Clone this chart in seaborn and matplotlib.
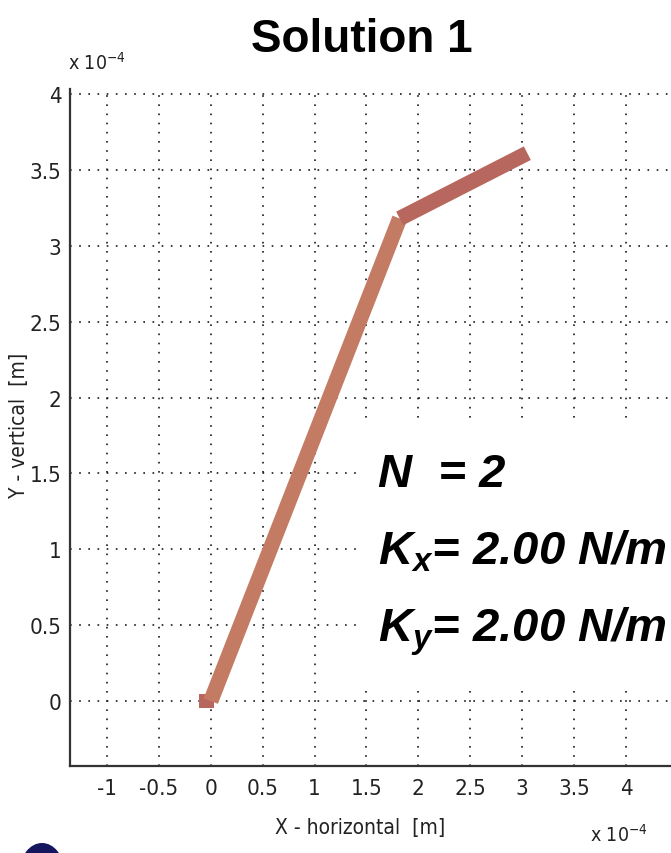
import matplotlib
matplotlib.use("Agg")
import matplotlib.pyplot as plt
import matplotlib.patches as mpatches
from matplotlib import font_manager
from matplotlib.ticker import FixedLocator, FuncFormatter
import pandas as pd
import seaborn as sns

# Node positions of the deformed chain [m]
x_nodes = [0.0, 1.82e-4, 3.05e-4]
y_nodes = [0.0, 3.18e-4, 3.61e-4]
# fixed support marker
support_x = [-0.04e-4]
support_y = [0.0]

scale = 1e-4
x_ticks = [-1, -0.5, 0, 0.5, 1, 1.5, 2, 2.5, 3, 3.5, 4]
y_ticks = [0, 0.5, 1, 1.5, 2, 2.5, 3, 3.5, 4]

title = "Solution 1"
n_label = "N  = 2"
kx_label = r"$K_x$= 2.00 N/m"
ky_label = r"$K_y$= 2.00 N/m"

sns.set_theme(style="white")
names = {f.name for f in font_manager.fontManager.ttflist}
narrow = [n for n in ["Liberation Sans Narrow", "DejaVu Sans Condensed"] if n in names] + ["DejaVu Sans"]
plt.rcParams["font.family"] = narrow
plt.rcParams["font.stretch"] = "condensed"
plt.rcParams["mathtext.fontset"] = "custom"
plt.rcParams["mathtext.it"] = "Liberation Sans:bold:italic"
plt.rcParams["mathtext.rm"] = "Liberation Sans"

W, H = 671, 854
fig = plt.figure(figsize=(W / 100, H / 100), dpi=100)
fig.patch.set_facecolor("white")
ax = fig.add_axes([70 / W, (H - 767) / H, (W - 70) / W, (767 - 90) / H])
ax.set_facecolor("white")

ax.set_xlim(-1.356e-4, 4.434e-4)
ax.set_ylim(-0.428e-4, 4.033e-4)

ax.xaxis.set_major_locator(FixedLocator([v * scale for v in x_ticks]))
ax.yaxis.set_major_locator(FixedLocator([v * scale for v in y_ticks]))
fmt = FuncFormatter(lambda v, p: f"{v / scale:g}")
ax.xaxis.set_major_formatter(fmt)
ax.yaxis.set_major_formatter(fmt)

ax.grid(True, color="#1a1a1a", linestyle=(0, (1, 4.5)), linewidth=1.2)
ax.set_axisbelow(True)

for s in ["top", "right"]:
    ax.spines[s].set_visible(False)
for s in ["left", "bottom"]:
    ax.spines[s].set_color("#333333")
    ax.spines[s].set_linewidth(1.6)

ax.tick_params(axis="both", direction="in", length=7, width=1.3, color="#333333",
               labelsize=16, labelcolor="#222222")
ax.tick_params(axis="x", pad=9)
ax.tick_params(axis="y", pad=6)

# white panel behind the parameter annotation
ax.add_patch(mpatches.Rectangle((1.42e-4, 0.11e-4), 4e-4, 1.71e-4,
                                facecolor="white", edgecolor="none", zorder=1))

seg_colors = ["#c47b63", "#b8675e"]
for i in range(len(x_nodes) - 1):
    seg = pd.DataFrame({"x": x_nodes[i:i + 2], "y": y_nodes[i:i + 2]})
    sns.lineplot(data=seg, x="x", y="y", ax=ax, color=seg_colors[i], linewidth=11,
                 solid_capstyle="butt", zorder=3, legend=False)
sns.scatterplot(x=support_x, y=support_y, ax=ax, marker="s", s=110,
                color="#b8675e", edgecolor="none", zorder=2, legend=False)

ax.set_xlabel("X - horizontal  [m]", fontsize=15, color="#222222")
ax.set_ylabel("Y - vertical  [m]", fontsize=15, color="#222222")
ax.xaxis.set_label_coords((360 - 70) / (W - 70), -(828 - 767) / (767 - 90))
ax.yaxis.set_label_coords(-(70 - 19) / (W - 70), (767 - 425) / (767 - 90))
ax.xaxis.label.set_va("center")
ax.yaxis.label.set_va("center")

# exponent notes on both axes
fig.text(68 / W, 1 - 70 / H, r"x 10$^{\mathregular{-4}}$", fontsize=14,
         color="#222222", ha="left", va="baseline", family=narrow)
fig.text(590 / W, 1 - 842 / H, r"x 10$^{\mathregular{-4}}$", fontsize=14,
         color="#222222", ha="left", va="baseline", family=narrow)

fig.text(362 / W, 1 - 40 / H, title, fontsize=33, fontweight="bold",
         family=["Liberation Sans", "DejaVu Sans"], stretch="normal",
         ha="center", va="center", color="black")

ann = dict(fontsize=34, fontweight="bold", style="italic", stretch="normal",
           family=["Liberation Sans", "DejaVu Sans"], ha="left", va="baseline",
           color="black")
fig.text(378 / W, 1 - 487 / H, n_label, **ann)
fig.text(378 / W, 1 - 565 / H, kx_label, **ann)
fig.text(378 / W, 1 - 642 / H, ky_label, **ann)

# partial logo emblem at the lower-left corner
fig.patches.append(mpatches.Circle((42 / W, 1 - 872 / H), 22 / W,
                                   transform=fig.transFigure, facecolor="#15165e",
                                   edgecolor="none"))

fig.savefig("out.png", dpi=100, facecolor="white")
